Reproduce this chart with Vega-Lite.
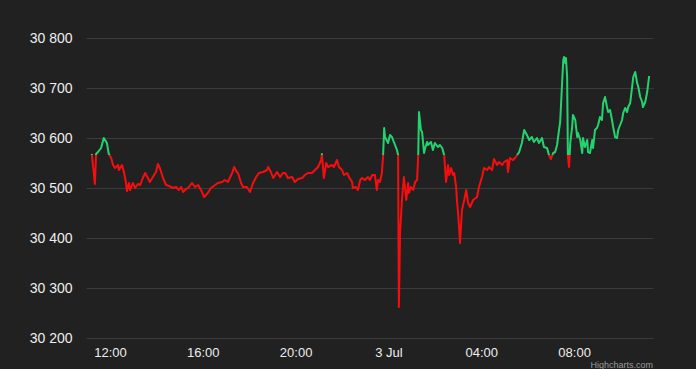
{
  "$schema": "https://vega.github.io/schema/vega-lite/v6.json",
  "width": 567,
  "height": 300,
  "autosize": {"type": "none"},
  "padding": {"left": 86, "top": 38, "right": 43, "bottom": 31},
  "background": "#212121",
  "config": {"view": {"stroke": null}},
  "title": {"text": "Highcharts.com", "orient": "bottom", "anchor": "end", "fontSize": 9, "fontWeight": "normal", "color": "#9a9a9a", "font": "Liberation Sans", "offset": 2},
  "data": {"values": [
    {"t":"2023-07-02T11:13","v":30568},{"t":"2023-07-02T11:21","v":30508},{"t":"2023-07-02T11:24","v":30568},{"t":"2023-07-02T11:29","v":30572},{"t":"2023-07-02T11:37","v":30580},{"t":"2023-07-02T11:44","v":30600},{"t":"2023-07-02T11:52","v":30590},{"t":"2023-07-02T11:57","v":30568},
    {"t":"2023-07-02T12:03","v":30560},{"t":"2023-07-02T12:08","v":30546},{"t":"2023-07-02T12:13","v":30540},{"t":"2023-07-02T12:21","v":30546},{"t":"2023-07-02T12:23","v":30536},{"t":"2023-07-02T12:31","v":30546},{"t":"2023-07-02T12:36","v":30532},{"t":"2023-07-02T12:41","v":30512},{"t":"2023-07-02T12:44","v":30494},{"t":"2023-07-02T12:49","v":30510},{"t":"2023-07-02T12:52","v":30496},{"t":"2023-07-02T12:59","v":30510},
    {"t":"2023-07-02T13:05","v":30500},{"t":"2023-07-02T13:12","v":30508},{"t":"2023-07-02T13:18","v":30506},{"t":"2023-07-02T13:25","v":30520},{"t":"2023-07-02T13:31","v":30530},{"t":"2023-07-02T13:38","v":30520},{"t":"2023-07-02T13:43","v":30512},{"t":"2023-07-02T13:51","v":30522},{"t":"2023-07-02T13:59","v":30532},
    {"t":"2023-07-02T14:04","v":30548},{"t":"2023-07-02T14:09","v":30540},{"t":"2023-07-02T14:17","v":30520},{"t":"2023-07-02T14:25","v":30506},{"t":"2023-07-02T14:33","v":30504},{"t":"2023-07-02T14:43","v":30500},{"t":"2023-07-02T14:51","v":30502},{"t":"2023-07-02T14:58","v":30496},
    {"t":"2023-07-02T15:04","v":30502},{"t":"2023-07-02T15:09","v":30492},{"t":"2023-07-02T15:17","v":30498},{"t":"2023-07-02T15:22","v":30500},{"t":"2023-07-02T15:32","v":30510},{"t":"2023-07-02T15:40","v":30502},{"t":"2023-07-02T15:48","v":30506},{"t":"2023-07-02T15:58","v":30492},
    {"t":"2023-07-02T16:03","v":30482},{"t":"2023-07-02T16:13","v":30490},{"t":"2023-07-02T16:21","v":30500},{"t":"2023-07-02T16:32","v":30506},{"t":"2023-07-02T16:39","v":30510},{"t":"2023-07-02T16:50","v":30512},{"t":"2023-07-02T16:57","v":30516},
    {"t":"2023-07-02T17:05","v":30512},{"t":"2023-07-02T17:16","v":30530},{"t":"2023-07-02T17:21","v":30542},{"t":"2023-07-02T17:28","v":30532},{"t":"2023-07-02T17:31","v":30530},{"t":"2023-07-02T17:39","v":30510},{"t":"2023-07-02T17:44","v":30502},{"t":"2023-07-02T17:54","v":30502},
    {"t":"2023-07-02T18:02","v":30492},{"t":"2023-07-02T18:10","v":30510},{"t":"2023-07-02T18:18","v":30522},{"t":"2023-07-02T18:25","v":30530},{"t":"2023-07-02T18:36","v":30532},{"t":"2023-07-02T18:46","v":30536},{"t":"2023-07-02T18:49","v":30542},{"t":"2023-07-02T18:56","v":30532},
    {"t":"2023-07-02T19:02","v":30520},{"t":"2023-07-02T19:12","v":30532},{"t":"2023-07-02T19:20","v":30522},{"t":"2023-07-02T19:27","v":30530},{"t":"2023-07-02T19:33","v":30530},{"t":"2023-07-02T19:40","v":30520},{"t":"2023-07-02T19:51","v":30522},{"t":"2023-07-02T19:58","v":30512},
    {"t":"2023-07-02T20:06","v":30518},{"t":"2023-07-02T20:17","v":30520},{"t":"2023-07-02T20:24","v":30526},{"t":"2023-07-02T20:32","v":30530},{"t":"2023-07-02T20:42","v":30530},{"t":"2023-07-02T20:50","v":30536},{"t":"2023-07-02T20:58","v":30542},
    {"t":"2023-07-02T21:06","v":30556},{"t":"2023-07-02T21:08","v":30568},{"t":"2023-07-02T21:13","v":30520},{"t":"2023-07-02T21:19","v":30550},{"t":"2023-07-02T21:24","v":30542},{"t":"2023-07-02T21:34","v":30546},{"t":"2023-07-02T21:39","v":30542},{"t":"2023-07-02T21:47","v":30556},{"t":"2023-07-02T21:52","v":30542},
    {"t":"2023-07-02T22:00","v":30536},{"t":"2023-07-02T22:05","v":30526},{"t":"2023-07-02T22:13","v":30530},{"t":"2023-07-02T22:18","v":30522},{"t":"2023-07-02T22:26","v":30512},{"t":"2023-07-02T22:28","v":30500},{"t":"2023-07-02T22:36","v":30502},{"t":"2023-07-02T22:41","v":30496},{"t":"2023-07-02T22:47","v":30516},{"t":"2023-07-02T22:52","v":30520},{"t":"2023-07-02T22:59","v":30516},
    {"t":"2023-07-02T23:07","v":30522},{"t":"2023-07-02T23:12","v":30516},{"t":"2023-07-02T23:18","v":30526},{"t":"2023-07-02T23:25","v":30526},{"t":"2023-07-02T23:30","v":30496},{"t":"2023-07-02T23:33","v":30516},{"t":"2023-07-02T23:38","v":30512},{"t":"2023-07-02T23:43","v":30530},{"t":"2023-07-02T23:46","v":30562},{"t":"2023-07-02T23:49","v":30620},{"t":"2023-07-02T23:51","v":30602},{"t":"2023-07-02T23:59","v":30590},
    {"t":"2023-07-03T00:04","v":30606},{"t":"2023-07-03T00:09","v":30602},{"t":"2023-07-03T00:14","v":30592},{"t":"2023-07-03T00:22","v":30576},{"t":"2023-07-03T00:25","v":30566},{"t":"2023-07-03T00:26","v":30396},{"t":"2023-07-03T00:27","v":30262},{"t":"2023-07-03T00:30","v":30410},{"t":"2023-07-03T00:33","v":30450},{"t":"2023-07-03T00:35","v":30476},{"t":"2023-07-03T00:40","v":30522},{"t":"2023-07-03T00:46","v":30476},{"t":"2023-07-03T00:51","v":30510},{"t":"2023-07-03T00:53","v":30490},{"t":"2023-07-03T00:58","v":30502},
    {"t":"2023-07-03T01:04","v":30496},{"t":"2023-07-03T01:09","v":30512},{"t":"2023-07-03T01:14","v":30516},{"t":"2023-07-03T01:17","v":30566},{"t":"2023-07-03T01:19","v":30652},{"t":"2023-07-03T01:24","v":30616},{"t":"2023-07-03T01:27","v":30612},{"t":"2023-07-03T01:32","v":30570},{"t":"2023-07-03T01:35","v":30580},{"t":"2023-07-03T01:40","v":30592},{"t":"2023-07-03T01:42","v":30586},{"t":"2023-07-03T01:50","v":30592},{"t":"2023-07-03T01:55","v":30576},
    {"t":"2023-07-03T02:00","v":30590},{"t":"2023-07-03T02:08","v":30582},{"t":"2023-07-03T02:13","v":30586},{"t":"2023-07-03T02:19","v":30580},{"t":"2023-07-03T02:24","v":30566},{"t":"2023-07-03T02:29","v":30512},{"t":"2023-07-03T02:34","v":30546},{"t":"2023-07-03T02:37","v":30526},{"t":"2023-07-03T02:42","v":30540},{"t":"2023-07-03T02:47","v":30526},{"t":"2023-07-03T02:50","v":30530},{"t":"2023-07-03T02:55","v":30502},{"t":"2023-07-03T02:57","v":30476},
    {"t":"2023-07-03T03:00","v":30450},{"t":"2023-07-03T03:03","v":30416},{"t":"2023-07-03T03:05","v":30390},{"t":"2023-07-03T03:10","v":30456},{"t":"2023-07-03T03:16","v":30476},{"t":"2023-07-03T03:21","v":30496},{"t":"2023-07-03T03:26","v":30470},{"t":"2023-07-03T03:31","v":30462},{"t":"2023-07-03T03:39","v":30476},{"t":"2023-07-03T03:49","v":30482},{"t":"2023-07-03T03:54","v":30502},
    {"t":"2023-07-03T04:02","v":30522},{"t":"2023-07-03T04:07","v":30540},{"t":"2023-07-03T04:15","v":30536},{"t":"2023-07-03T04:20","v":30542},{"t":"2023-07-03T04:28","v":30536},{"t":"2023-07-03T04:33","v":30558},{"t":"2023-07-03T04:41","v":30546},{"t":"2023-07-03T04:46","v":30552},{"t":"2023-07-03T04:54","v":30546},{"t":"2023-07-03T04:59","v":30552},
    {"t":"2023-07-03T05:07","v":30556},{"t":"2023-07-03T05:09","v":30532},{"t":"2023-07-03T05:14","v":30560},{"t":"2023-07-03T05:22","v":30556},{"t":"2023-07-03T05:27","v":30560},{"t":"2023-07-03T05:33","v":30566},{"t":"2023-07-03T05:38","v":30572},{"t":"2023-07-03T05:45","v":30590},{"t":"2023-07-03T05:51","v":30616},{"t":"2023-07-03T05:58","v":30606},
    {"t":"2023-07-03T06:04","v":30596},{"t":"2023-07-03T06:11","v":30602},{"t":"2023-07-03T06:16","v":30592},{"t":"2023-07-03T06:24","v":30600},{"t":"2023-07-03T06:29","v":30590},{"t":"2023-07-03T06:37","v":30600},{"t":"2023-07-03T06:42","v":30582},{"t":"2023-07-03T06:50","v":30580},{"t":"2023-07-03T06:55","v":30566},
    {"t":"2023-07-03T07:00","v":30558},{"t":"2023-07-03T07:06","v":30570},{"t":"2023-07-03T07:11","v":30572},{"t":"2023-07-03T07:16","v":30586},{"t":"2023-07-03T07:21","v":30616},{"t":"2023-07-03T07:24","v":30632},{"t":"2023-07-03T07:29","v":30710},{"t":"2023-07-03T07:32","v":30756},{"t":"2023-07-03T07:34","v":30762},{"t":"2023-07-03T07:37","v":30750},{"t":"2023-07-03T07:39","v":30760},{"t":"2023-07-03T07:42","v":30722},{"t":"2023-07-03T07:44","v":30562},{"t":"2023-07-03T07:47","v":30542},{"t":"2023-07-03T07:50","v":30590},{"t":"2023-07-03T07:55","v":30622},{"t":"2023-07-03T07:57","v":30646},
    {"t":"2023-07-03T08:03","v":30636},{"t":"2023-07-03T08:08","v":30602},{"t":"2023-07-03T08:10","v":30610},{"t":"2023-07-03T08:16","v":30596},{"t":"2023-07-03T08:21","v":30570},{"t":"2023-07-03T08:23","v":30600},{"t":"2023-07-03T08:28","v":30582},{"t":"2023-07-03T08:34","v":30596},{"t":"2023-07-03T08:36","v":30572},{"t":"2023-07-03T08:41","v":30570},{"t":"2023-07-03T08:47","v":30596},{"t":"2023-07-03T08:49","v":30580},{"t":"2023-07-03T08:54","v":30616},{"t":"2023-07-03T08:59","v":30620},
    {"t":"2023-07-03T09:02","v":30626},{"t":"2023-07-03T09:07","v":30642},{"t":"2023-07-03T09:12","v":30636},{"t":"2023-07-03T09:15","v":30670},{"t":"2023-07-03T09:20","v":30682},{"t":"2023-07-03T09:25","v":30662},{"t":"2023-07-03T09:28","v":30652},{"t":"2023-07-03T09:33","v":30656},{"t":"2023-07-03T09:38","v":30636},{"t":"2023-07-03T09:41","v":30622},{"t":"2023-07-03T09:46","v":30602},{"t":"2023-07-03T09:51","v":30600},{"t":"2023-07-03T09:54","v":30616},{"t":"2023-07-03T09:59","v":30626},
    {"t":"2023-07-03T10:04","v":30636},{"t":"2023-07-03T10:07","v":30650},{"t":"2023-07-03T10:12","v":30660},{"t":"2023-07-03T10:17","v":30652},{"t":"2023-07-03T10:20","v":30662},{"t":"2023-07-03T10:25","v":30670},{"t":"2023-07-03T10:30","v":30702},{"t":"2023-07-03T10:33","v":30722},{"t":"2023-07-03T10:38","v":30732},{"t":"2023-07-03T10:43","v":30710},{"t":"2023-07-03T10:46","v":30702},{"t":"2023-07-03T10:51","v":30682},{"t":"2023-07-03T10:56","v":30672},{"t":"2023-07-03T10:58","v":30662},
    {"t":"2023-07-03T11:04","v":30672},{"t":"2023-07-03T11:09","v":30692},{"t":"2023-07-03T11:14","v":30724}
  ]},
  "mark": {
    "type": "line",
    "strokeWidth": 2,
    "strokeJoin": "round",
    "stroke": {
      "gradient": "linear", "x1": 0, "y1": 0, "x2": 0, "y2": 1,
      "stops": [
        {"offset": 0, "color": "#22d46e"},
        {"offset": 0.394, "color": "#22d46e"},
        {"offset": 0.394, "color": "#f70d0d"},
        {"offset": 1, "color": "#f70d0d"}
      ]
    }
  },
  "encoding": {
    "x": {
      "field": "t", "type": "temporal",
      "scale": {"domain": [{"year": 2023, "month": 7, "date": 2, "hours": 10, "minutes": 58}, {"year": 2023, "month": 7, "date": 3, "hours": 11, "minutes": 24}]},
      "axis": {
        "title": null, "grid": false, "domain": false, "ticks": false,
        "values": [
          {"year": 2023, "month": 7, "date": 2, "hours": 12},
          {"year": 2023, "month": 7, "date": 2, "hours": 16},
          {"year": 2023, "month": 7, "date": 2, "hours": 20},
          {"year": 2023, "month": 7, "date": 3, "hours": 0},
          {"year": 2023, "month": 7, "date": 3, "hours": 4},
          {"year": 2023, "month": 7, "date": 3, "hours": 8}
        ],
        "labelExpr": "hours(datum.value) == 0 ? timeFormat(datum.value, '%-d %b') : timeFormat(datum.value, '%H:%M')",
        "labelFont": "Liberation Sans", "labelFontSize": 13, "labelColor": "#eeeeee",
        "labelPadding": 8, "labelFlush": false
      }
    },
    "y": {
      "field": "v", "type": "quantitative",
      "scale": {"domain": [30200, 30800], "nice": false, "zero": false},
      "axis": {
        "title": null, "domain": false, "ticks": false,
        "values": [30200, 30300, 30400, 30500, 30600, 30700, 30800],
        "gridColor": "#3b3b3b", "gridWidth": 1,
        "labelExpr": "replace(format(datum.value, ','), ',', ' ')",
        "labelFont": "Liberation Sans", "labelFontSize": 14, "labelColor": "#eeeeee",
        "labelPadding": 14
      }
    }
  }
}
